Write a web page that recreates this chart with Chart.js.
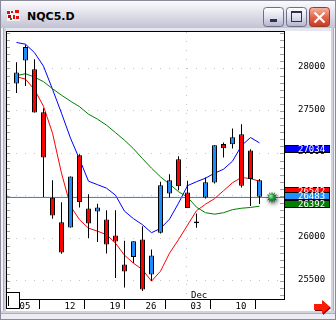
<!DOCTYPE html>
<html><head><meta charset="utf-8"><title>NQC5.D</title>
<script src="https://cdn.jsdelivr.net/npm/chart.js@4.4.1/dist/chart.umd.min.js"></script>
<style>
html,body{margin:0;padding:0;width:336px;height:320px;overflow:hidden;background:#dedee8}
#chrome{position:absolute;left:0;top:0}
#c{position:absolute;left:6px;top:31px;width:325px;height:280px}
#arrow{position:absolute;left:0;top:0;pointer-events:none}
</style></head><body>
<svg id="chrome" width="336" height="320">
<defs>
<linearGradient id="tg" x1="0" y1="0" x2="0" y2="1"><stop offset="0" stop-color="#fdfdfe"/><stop offset="0.3" stop-color="#ececf3"/><stop offset="1" stop-color="#c2c2d3"/></linearGradient>
<linearGradient id="bt" x1="0" y1="0" x2="0" y2="1"><stop offset="0" stop-color="#ffffff"/><stop offset="0.5" stop-color="#e0e0ee"/><stop offset="1" stop-color="#b2b2cc"/></linearGradient>
<linearGradient id="rd" x1="0" y1="0" x2="0" y2="1"><stop offset="0" stop-color="#f6b6a6"/><stop offset="0.5" stop-color="#e2664a"/><stop offset="1" stop-color="#c23a22"/></linearGradient>
</defs>
<rect width="336" height="320" fill="#dedee8"/>
<rect x="0" y="0" width="336" height="28" fill="url(#tg)"/>
<rect x="0" y="28" width="336" height="3" fill="#e6e6ee"/>
<rect x="0" y="28" width="1" height="292" fill="#8a8a9a"/>
<rect x="1" y="28" width="2" height="292" fill="#f4f4f8"/>
<rect x="3" y="28" width="1" height="292" fill="#aeaebe"/>
<rect x="4" y="28" width="2" height="292" fill="#d2d2de"/>
<rect x="331" y="28" width="2" height="292" fill="#d2d2de"/>
<rect x="333" y="28" width="1" height="292" fill="#aeaebe"/>
<rect x="334" y="28" width="1" height="292" fill="#f4f4f8"/>
<rect x="0" y="311" width="336" height="2" fill="#d2d2de"/>
<rect x="0" y="313" width="336" height="1" fill="#aeaebe"/>
<rect x="0" y="314" width="336" height="5" fill="#ececf2"/>
<rect x="0.5" y="0.5" width="335" height="319" fill="none" stroke="#8a8a9a"/>
<g>
<rect x="7" y="10" width="13" height="11" fill="#f4f4f4"/>
<rect x="7" y="11" width="3" height="3" fill="#e01010"/><rect x="11" y="11" width="2" height="2" fill="#e01010"/>
<rect x="15" y="10" width="4" height="3" fill="#e01010"/><rect x="8" y="15" width="3" height="3" fill="#c00000"/>
<rect x="13" y="15" width="2" height="4" fill="#e01010"/><rect x="16" y="16" width="3" height="3" fill="#e01010"/>
<rect x="10" y="18" width="2" height="2" fill="#555"/>
</g>
<text x="27" y="20" font-family="DejaVu Sans" font-weight="bold" font-size="11" fill="#000">NQC5.D</text>
<rect x="263.5" y="7.5" width="20" height="19" rx="3" fill="url(#bt)" stroke="#6e6e88"/>
<rect x="270" y="19" width="7" height="3" fill="#30304a"/>
<rect x="286.5" y="7.5" width="20" height="19" rx="3" fill="url(#bt)" stroke="#6e6e88"/>
<rect x="291.5" y="11.5" width="10" height="10" fill="none" stroke="#30304a"/>
<rect x="291" y="11" width="11" height="2" fill="#30304a"/>
<rect x="309.5" y="7.5" width="20" height="19" rx="3" fill="url(#rd)" stroke="#9a3a2a"/>
<path d="M314.5 12.5 L324.5 22.5 M324.5 12.5 L314.5 22.5" stroke="#ffffff" stroke-width="2.2"/>
</svg>
<canvas id="c" width="325" height="280"></canvas>
<svg id="arrow" width="336" height="320">
<polygon points="315,305 323,305 323,301 331,308 323,315 323,311 315,311" fill="#8a0000"/>
<polygon points="314,304 322,304 322,300 330,307 322,314 322,310 314,310" fill="#ff1a00"/>
</svg>
<script>
// ---- data ----
const dates = ['11/05','11/06','11/07','11/08','11/09','11/12','11/13','11/14','11/15','11/16',
  '11/19','11/20','11/21','11/23','11/26','11/27','11/28','11/29','11/30',
  '12/03','12/04','12/05','12/06','12/07','12/10','12/11','12/12','12/13'];
const open  = [27824,28094,27992,27486,26478,26192,26129,26980,26353,26317,26223,26035,25694,25783,25988,25576,26066,26529,26933,26541,26200,26482,26659,27113,27109,27227,27035,26490];
const high  = [28074,28278,28109,27533,26686,26427,26729,26990,26521,26409,26333,26333,25972,25968,26145,25870,26666,26756,26968,26678,26294,26718,27098,27129,27294,27345,27051,26701];
const low   = [27713,27795,27482,26489,26231,25819,26129,26365,26007,25960,25823,25536,25423,25713,25383,25501,26059,26482,26568,26360,26125,26470,26647,26953,27059,26600,26383,26407];
const close = [27953,28254,27482,26953,26271,25835,26729,26430,26176,26365,25929,25965,25612,25968,25400,25800,26627,26686,26615,26360,26180,26662,27098,27062,27192,26619,26701,26686];
const maBlue  = [28306,28286,28186,28027,27756,27474,27180,26933,26674,26633,26592,26509,26321,26233,26162,26068,26118,26227,26415,26621,26668,26709,26768,26815,26909,27092,27188,27125];
const maRed   = [27904,27874,27751,27556,27239,26768,26380,26221,26121,26086,26045,25945,25803,25709,25633,25498,25615,25827,25986,26156,26327,26403,26468,26562,26656,26718,26704,26674];
const maGreen = [27915,27939,27898,27845,27762,27686,27615,27551,27462,27404,27333,27245,27156,27056,26939,26827,26725,26639,26551,26486,26368,26303,26286,26303,26339,26356,26365,26380];
const lastPrice = 26483;
const xTickIdx = [0,5,10,14,19,24];
const xTickLabels = ['05','12','19','26','03','10'];
const monthIdx = 19, monthLabel = 'Dec';
const yTicks = [25500,26000,26500,27000,27500,28000];
const boxValues = [27034,26542,26392,26483];
const boxColors = ['#0000ff','#ff0000','#008000','#1e90ff'];

// ---- scale ranges / style ----
const X_MIN = -1.1667, X_MAX = 29.7222, Y_MIN = 25288, Y_MAX = 28441;
const STAR_X = dates.length + 0.39;
const FONT = '9px "DejaVu Sans Mono"';
const UP = '#1e8cff', DOWN = '#ff0000';

const idx = dates.map((d,i)=>i);
const pts = arr => arr.map((v,i)=>({x:i, y:v}));

const extras = {
  id:'extras',
  beforeDraw(chart){
    const c = chart.ctx; c.save(); c.fillStyle='#fff'; c.fillRect(0,0,chart.width,chart.height); c.restore();
  },
  beforeDatasetsDraw(chart){
    const c = chart.ctx, xs = chart.scales.x, ys = chart.scales.y, a = chart.chartArea;
    c.save();
    // month separator (dotted)
    const mx = Math.floor(xs.getPixelForValue(monthIdx)) - 1 + 0.5;
    c.strokeStyle = '#c4c4c4'; c.lineWidth = 1; c.setLineDash([1,8]); c.lineDashOffset = 8;
    c.beginPath(); c.moveTo(mx, a.top); c.lineTo(mx, a.bottom); c.stroke();
    c.setLineDash([]);
    // minor ticks on both inner edges
    c.strokeStyle = '#a0a0a8';
    const step = 250/3;
    for (let k = Math.ceil(Y_MIN/step); k*step <= Y_MAX; k++) {
      const y = Math.round(ys.getPixelForValue(k*step)) + 0.5;
      c.beginPath(); c.moveTo(a.left+1, y); c.lineTo(a.left+4, y);
      c.moveTo(a.right-4, y); c.lineTo(a.right, y); c.stroke();
    }
    c.restore();
  },
  afterDatasetsDraw(chart){
    const c = chart.ctx, xs = chart.scales.x, ys = chart.scales.y;
    const sx = xs.getPixelForValue(STAR_X), sy = ys.getPixelForValue(lastPrice);
    c.save();
    c.shadowColor='rgba(0,0,0,0.6)'; c.shadowBlur=4; c.shadowOffsetX=1; c.shadowOffsetY=2;
    c.beginPath();
    const n=12;
    for(let i=0;i<2*n;i++){const r=i%2?3.3:6;const ang=i*Math.PI/n;c.lineTo(sx+r*Math.cos(ang),sy+r*Math.sin(ang));}
    c.closePath();
    const g=c.createRadialGradient(sx-1.5,sy-1.5,0.3,sx,sy,6);
    g.addColorStop(0,'#a8f0a8');g.addColorStop(0.45,'#1f8f3a');g.addColorStop(1,'#074a1a');
    c.fillStyle=g; c.fill();
    c.restore();
  },
  afterDraw(chart){
    const c = chart.ctx, xs = chart.scales.x, ys = chart.scales.y, a = chart.chartArea;
    c.save();
    // left + top border of plot
    c.fillStyle='#000';
    c.fillRect(a.left, a.top, a.right - a.left + 1, 1);
    c.fillRect(a.left, a.top, 1, a.bottom - a.top + 1);
    // month label
    c.font = FONT; c.textBaseline='alphabetic'; c.textAlign='left'; c.fillStyle='#000';
    c.fillText(monthLabel, Math.round(xs.getPixelForValue(monthIdx)) + 3, a.bottom - 1.5);
    // scroll box
    c.fillStyle='#fff'; c.fillRect(1, a.bottom-6, 13, 16);
    c.strokeStyle='#000'; c.lineWidth=1; c.strokeRect(0.5, a.bottom-6.5, 13, 16);
    c.beginPath(); c.moveTo(2.5, a.bottom-3); c.lineTo(2.5, a.bottom+7); c.stroke();
    // value boxes on the price axis
    boxValues.forEach((v,i)=>{
      const cy = ys.getPixelForValue(v) - 1.5;
      const top = Math.round(cy - 4);
      c.fillStyle = boxColors[i]; c.fillRect(a.right+1, top, 45, 8);
      c.strokeStyle='#000'; c.strokeRect(a.right+0.5, top+0.5, 45, 7);
      c.fillStyle='#fff'; c.font=FONT; c.textBaseline='middle'; c.textAlign='left';
      c.fillText(String(v), a.right + 14, top + 4.5);
    });
    c.restore();
  }
};

Chart.defaults.font.family = '"DejaVu Sans Mono"';
Chart.defaults.font.size = 9;
Chart.defaults.color = '#000';

new Chart(document.getElementById('c'), {
  type:'bar',
  data:{
    datasets:[
      {type:'line', data:pts(maGreen), borderColor:'#008000', borderWidth:1, pointRadius:0, tension:0, order:4},
      {type:'line', data:pts(maBlue), borderColor:'#0000ff', borderWidth:1, pointRadius:0, tension:0, order:4},
      {type:'line', data:pts(maRed), borderColor:'#ff0000', borderWidth:1, pointRadius:0, tension:0, order:4},
      {type:'line', data:[{x:X_MIN,y:lastPrice},{x:X_MAX,y:lastPrice}], borderColor:'#1e7fe6', borderWidth:1, pointRadius:0, order:3},
      {data: idx.map(i=>({x:i, y:[low[i], high[i]]})), backgroundColor:'#000', borderWidth:0, barThickness:1, grouped:false, inflateAmount:0, order:2},
      {data: idx.map(i=>({x:i, y:[open[i], close[i]]})), backgroundColor: idx.map(i=> close[i] >= open[i] ? UP : DOWN),
        borderColor:'#000', borderWidth:1, borderSkipped:false, barThickness:5, grouped:false, inflateAmount:0, order:1}
    ]
  },
  options:{
    responsive:false, animation:false, devicePixelRatio:1, events:[],
    layout:{padding:{left:0,top:0,right:0,bottom:0}},
    plugins:{legend:{display:false}, tooltip:{enabled:false}},
    scales:{
      x:{type:'linear', min:X_MIN, max:X_MAX, offset:false, bounds:'data',
        afterBuildTicks: s => { s.ticks = xTickIdx.map(v=>({value:v})); },
        afterFit: s => { s.height = 12; s.paddingLeft = 0; s.paddingRight = 0; },
        ticks:{autoSkip:false, maxRotation:0, minRotation:0, align:'start', labelOffset:3, padding:-8,
          font:{family:'"DejaVu Sans Mono"', size:9}, color:'#000',
          callback:(v,i)=> xTickLabels[i]},
        grid:{display:true, drawOnChartArea:false, drawTicks:true, tickLength:10, color:'#000', lineWidth:1},
        border:{display:true, color:'#000', width:1}
      },
      y:{type:'linear', position:'right', min:Y_MIN, max:Y_MAX, bounds:'data',
        afterBuildTicks: s => { s.ticks = yTicks.map(v=>({value:v})); },
        afterFit: s => { s.width = 47; s.paddingTop = 0; s.paddingBottom = 0; },
        ticks:{padding:14, crossAlign:'near', labelOffset:-1.5, font:{family:'"DejaVu Sans Mono"', size:9}, color:'#000',
          callback:v=> String(v)},
        grid:{color:'#c4c4c4', drawTicks:false, lineWidth:1},
        border:{display:true, color:'#000', width:1, dash:[1,8], dashOffset:8}
      }
    }
  },
  plugins:[extras]
});
</script>
</body></html>
